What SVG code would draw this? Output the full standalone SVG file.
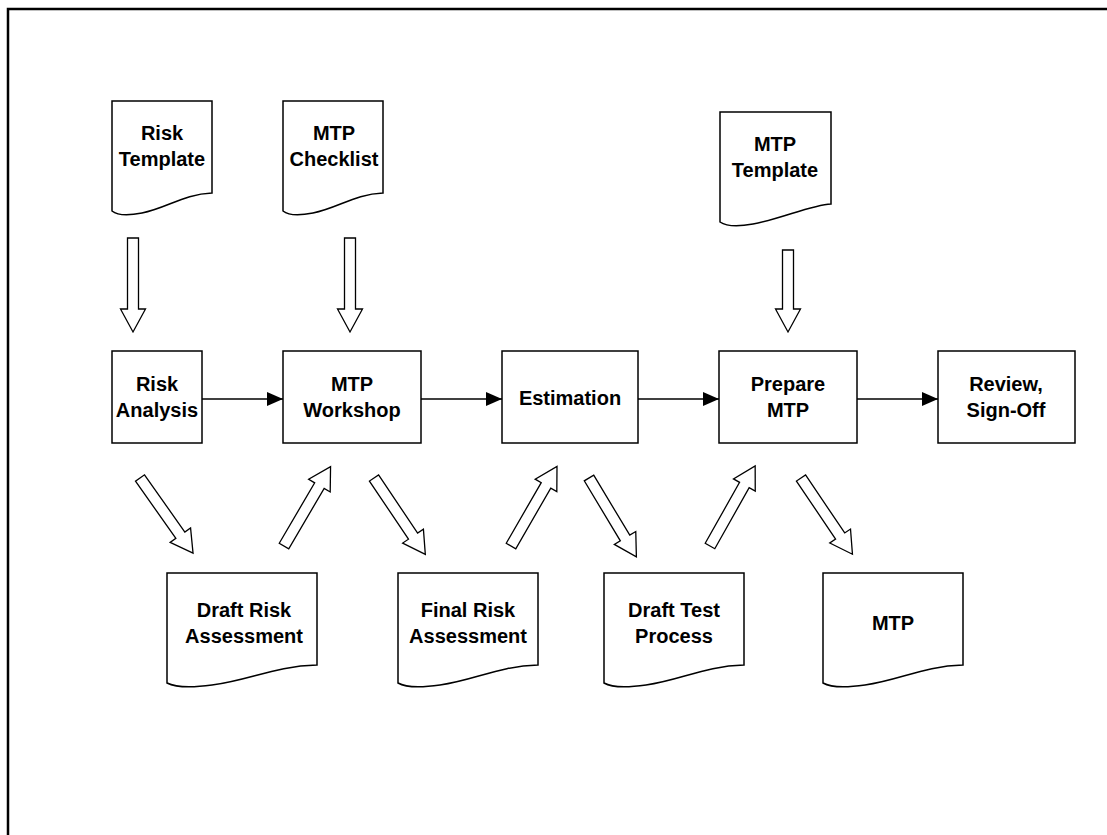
<svg xmlns="http://www.w3.org/2000/svg" xmlns:xlink="http://www.w3.org/1999/xlink" width="1107" height="835" viewBox="0 0 1107 835">
<style>
.box{fill:#fff;stroke:#000;stroke-width:1.5}
.doc{fill:#fff;stroke:#000;stroke-width:1.5}
.blk{fill:#fff;stroke:#000;stroke-width:1.3}
.t{font-family:"Liberation Sans",Arial,sans-serif;font-weight:bold;font-size:20px;text-anchor:middle;fill:#000}
.con{stroke:#000;stroke-width:1.5;fill:none}
</style>
<defs>
<marker id="ah" markerWidth="16" markerHeight="14" refX="16" refY="7" orient="auto" markerUnits="userSpaceOnUse">
<path d="M0,0 L16,7 L0,14 Z" fill="#000"/>
</marker>
<path id="da" d="M0,-5.5 H70 V-12.5 L92,0 L70,12.5 V5.5 H0 Z"/>
</defs>
<rect width="1107" height="835" fill="#fff"/>
<path d="M8,835 V9 H1107" fill="none" stroke="#000" stroke-width="2.5"/>

<g id="riskTemplate">
<path class="doc" d="M112,101 H212 V193 C184,194 167,208 142,213 C127,216 117,215 112,211 Z"/>
<text class="t" x="162" y="140">Risk</text>
<text class="t" x="162" y="166">Template</text>
</g>
<g id="mtpChecklist">
<path class="doc" d="M283,101 H383 V193 C355,194 338,208 313,213 C298,216 288,215 283,211 Z"/>
<text class="t" x="334" y="140">MTP</text>
<text class="t" x="334" y="166">Checklist</text>
</g>
<g id="mtpTemplate">
<path class="doc" d="M720,112 H831 V204 C811,205 781,219 753,224 C737,227 726,226 720,222 Z"/>
<text class="t" x="775" y="151">MTP</text>
<text class="t" x="775" y="177">Template</text>
</g>

<g id="riskAnalysis">
<rect class="box" x="112" y="351" width="90" height="92"/>
<text class="t" x="157" y="391">Risk</text>
<text class="t" x="157" y="417">Analysis</text>
</g>
<g id="mtpWorkshop">
<rect class="box" x="283" y="351" width="138" height="92"/>
<text class="t" x="352" y="391">MTP</text>
<text class="t" x="352" y="417">Workshop</text>
</g>
<g id="estimation">
<rect class="box" x="502" y="351" width="136" height="92"/>
<text class="t" x="570" y="405">Estimation</text>
</g>
<g id="prepareMTP">
<rect class="box" x="719" y="351" width="138" height="92"/>
<text class="t" x="788" y="391">Prepare</text>
<text class="t" x="788" y="417">MTP</text>
</g>
<g id="reviewSignOff">
<rect class="box" x="938" y="351" width="137" height="92"/>
<text class="t" x="1006" y="391">Review,</text>
<text class="t" x="1006" y="417">Sign-Off</text>
</g>

<g id="draftRisk">
<path class="doc" d="M167,573 H317 V665 C275,666 250,680 212,685 C190,688 175,687 167,683 Z"/>
<text class="t" x="244" y="617">Draft Risk</text>
<text class="t" x="244" y="643">Assessment</text>
</g>
<g id="finalRisk">
<path class="doc" d="M398,573 H538 V665 C499,666 475,680 440,685 C419,688 405,687 398,683 Z"/>
<text class="t" x="468" y="617">Final Risk</text>
<text class="t" x="468" y="643">Assessment</text>
</g>
<g id="draftTest">
<path class="doc" d="M604,573 H744 V665 C705,666 681,680 646,685 C625,688 611,687 604,683 Z"/>
<text class="t" x="674" y="617">Draft Test</text>
<text class="t" x="674" y="643">Process</text>
</g>
<g id="mtpDoc">
<path class="doc" d="M823,573 H963 V665 C924,666 900,680 865,685 C844,688 830,687 823,683 Z"/>
<text class="t" x="893" y="630">MTP</text>
</g>

<g id="connectors">
<line class="con" x1="202" y1="399" x2="283" y2="399" marker-end="url(#ah)"/>
<line class="con" x1="421" y1="399" x2="502" y2="399" marker-end="url(#ah)"/>
<line class="con" x1="638" y1="399" x2="719" y2="399" marker-end="url(#ah)"/>
<line class="con" x1="857" y1="399" x2="938" y2="399" marker-end="url(#ah)"/>
<path class="blk" d="M127.5,238 H138.5 V309 H145.5 L133,332 L120.5,309 H127.5 Z"/>
<path class="blk" d="M344.5,238 H355.5 V309 H362.5 L350,332 L337.5,309 H344.5 Z"/>
<path class="blk" d="M782.5,250 H793.5 V309 H800.5 L788,332 L775.5,309 H782.5 Z"/>
<use class="blk" xlink:href="#da" transform="translate(140,478) rotate(54.8)"/>
<use class="blk" xlink:href="#da" transform="translate(284,546) rotate(-59.6)"/>
<use class="blk" xlink:href="#da" transform="translate(374,478) rotate(56.1)"/>
<use class="blk" xlink:href="#da" transform="translate(511,546) rotate(-60)"/>
<use class="blk" xlink:href="#da" transform="translate(589,478) rotate(59)"/>
<use class="blk" xlink:href="#da" transform="translate(710,546) rotate(-60.6)"/>
<use class="blk" xlink:href="#da" transform="translate(801,478) rotate(56)"/>
</g>
</svg>
